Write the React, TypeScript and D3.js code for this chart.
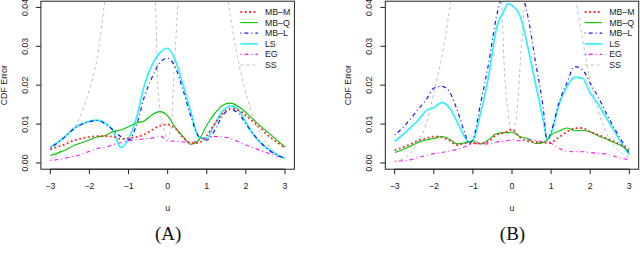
import React from "react";
import * as d3 from "d3";

// ---------- data ----------
const uA = [-3, -2.8, -2.6, -2.4, -2.2, -2, -1.8, -1.6, -1.4, -1.2, -1, -0.8, -0.6, -0.4, -0.2, 0, 0.2, 0.4, 0.6, 0.8, 1, 1.2, 1.4, 1.6, 1.8, 2, 2.2, 2.4, 2.6, 2.8, 3];
const mbmA = [.0035, .0042, .0049, .0058, .0063, .0067, .0069, .0069, .0068, .0062, .0064, .0067, .0073, .0085, .0096, .0099, .0088, .0065, .0051, .0052, .0071, .0100, .0126, .0140, .0136, .0122, .0105, .0087, .0068, .0053, .0038];
const mbqA = [.0019, .0026, .0034, .0045, .0052, .0060, .0067, .0070, .0081, .0085, .0093, .0103, .0108, .0124, .0132, .0121, .0091, .0067, .0048, .0060, .0097, .0127, .0148, .0154, .0146, .0130, .0111, .0093, .0076, .0058, .0041];
const mblA = [.0038, .0053, .0069, .0088, .0099, .0106, .0109, .0101, .0085, .0068, .0059, .0096, .0169, .0220, .0258, .0269, .0245, .0185, .0118, .0068, .0059, .0083, .0121, .0137, .0129, .0100, .0073, .0050, .0032, .0020, .0012];
const lsA = [.0040, .0054, .0070, .0089, .0100, .0107, .0110, .0102, .0085, .0040, .0062, .0115, .0198, .0252, .0283, .0295, .0263, .0199, .0128, .0066, .0064, .0100, .0132, .0146, .0138, .0104, .0072, .0050, .0034, .0021, .0012];
const egA = [.0006, .0009, .0013, .0017, .0023, .0030, .0037, .0040, .0047, .0052, .0057, .0060, .0062, .0064, .0070, .0057, .0056, .0054, .0053, .0058, .0063, .0068, .0067, .0063, .0055, .0046, .0039, .0031, .0024, .0018, .0012];

const uB = [-3, -2.8, -2.6, -2.4, -2.2, -2, -1.8, -1.6, -1.4, -1.2, -1.1, -1, -0.8, -0.6, -0.4, -0.2, -0.1, 0, 0.2, 0.4, 0.6, 0.8, 0.9, 1, 1.2, 1.4, 1.6, 1.8, 2, 2.2, 2.4, 2.6, 2.8, 3];
const mbmB = [.0033, .0040, .0048, .0058, .0063, .0068, .0066, .0058, .0046, .0051, .0050, .0051, .0050, .0055, .0072, .0078, .0082, .0086, .0066, .0056, .0054, .0052, .0052, .0053, .0066, .0080, .0089, .0090, .0080, .0073, .0064, .0056, .0046, .0036];
const mbqB = [.0027, .0034, .0043, .0053, .0059, .0063, .0068, .0061, .0049, .0052, .0055, .0057, .0049, .0060, .0075, .0078, .0078, .0079, .0068, .0063, .0050, .0053, .0060, .0072, .0082, .0090, .0083, .0084, .0080, .0070, .0062, .0053, .0044, .0030];
const mblB = [.0072, .0090, .0113, .0138, .0162, .0192, .0197, .0183, .0135, .0075, .0050, .0060, .0155, .0255, .0375, .0445, .0465, .0470, .0450, .0380, .0260, .0140, .0057, .0080, .0155, .0205, .0248, .0240, .0205, .0170, .0130, .0092, .0058, .0025];
const lsB = [.0055, .0072, .0090, .0110, .0134, .0142, .0155, .0142, .0105, .0065, .0052, .0058, .0130, .0222, .0345, .0392, .0410, .0405, .0380, .0300, .0205, .0110, .0060, .0075, .0150, .0195, .0220, .0218, .0180, .0152, .0118, .0085, .0050, .0022];
const egB = [.0005, .0005, .0008, .0014, .0019, .0024, .0027, .0031, .0035, .0042, .0046, .0050, .0049, .0049, .0054, .0056, .0058, .0061, .0057, .0060, .0058, .0054, .0052, .0050, .0038, .0030, .0029, .0029, .0027, .0025, .0023, .0018, .0012, .0008];

const ssU = [-3, -2.8, -2.6, -2.4, -2.2, -2, -1.8, -1.6, -1.4, -1.2, -1, -0.8, -0.6, -0.4, -0.3, -0.25, -0.2, -0.1, 0, 0.1, 0.15, 0.2, 0.3, 0.4, 0.6, 0.8, 1, 1.2, 1.4, 1.6, 1.8, 2, 2.2, 2.4, 2.6, 2.8, 3];
const ssA = [.0008, .0025, .0050, .0085, .0128, .0190, .0270, .0420, .0550, .0650, .0700, .0700, .0650, .0500, .0380, .0200, .0140, .0090, .0060, .0110, .0200, .0300, .0460, .0580, .0680, .0700, .0680, .0620, .0520, .0380, .0265, .0180, .0115, .0070, .0042, .0022, .0010];
const ssB = [.0003, .0010, .0025, .0055, .0098, .0180, .0270, .0390, .0520, .0620, .0680, .0700, .0700, .0600, .0480, .0380, .0250, .0130, .0080, .0110, .0160, .0240, .0380, .0550, .0700, .0700, .0680, .0620, .0550, .0440, .0320, .0210, .0135, .0080, .0045, .0025, .0012];

const xTicks = [-3, -2, -1, 0, 1, 2, 3];
const yTicks = [0, 0.01, 0.02, 0.03, 0.04];
const legendLabels = ["MB\u2013M", "MB\u2013Q", "MB\u2013L", "LS", "EG", "SS"];

// ---------- styles ----------
const styles = [
  { color: "#ff2828", width: 1.8, dash: "1.8 2.6" },
  { color: "#00c800", width: 1.1, dash: "" },
  { color: "#1818ff", width: 1.2, dash: "1 3 4 3" },
  { color: "#30f0ff", width: 1.7, dash: "" },
  { color: "#ff10ff", width: 1.1, dash: "1 3 4 3" },
  { color: "#bdbdbd", width: 1, dash: "3 3" },
];

const FONT = "'Liberation Sans', Arial, Helvetica, sans-serif";

type PanelProps = {
  id: string;
  left: number;
  right: number;
  u: number[];
  series: number[][];
  ss: number[];
  tag: string;
};

function Panel({ id, left, right, u, series, ss, tag }: PanelProps) {
  const top = 1.2;
  const bottom = 169.2;
  const x = d3.scaleLinear().domain([-3.24, 3.24]).range([left, right]);
  const y = d3.scaleLinear().domain([-0.0016, 0.0416]).range([bottom, top]);
  const line = d3
    .line<[number, number]>()
    .x((d) => x(d[0]))
    .y((d) => y(d[1]))
    .curve(d3.curveMonotoneX);
  const all = [...series, ss];
  const xs = [...series.map(() => u), ssU];
  const cx = (left + right) / 2;
  const legX = right - 54;
  return (
    <g>
      <defs>
        <clipPath id={"clip" + id}>
          <rect x={left} y={top} width={right - left} height={bottom - top} />
        </clipPath>
      </defs>
      <g clipPath={`url(#clip${id})`}>
        {[5, 4, 3, 2, 1, 0].map((i) => (
          <path
            key={i}
            d={line(xs[i].map((uu, k) => [uu, all[i][k]] as [number, number])) || ""}
            fill="none"
            stroke={styles[i].color}
            strokeWidth={styles[i].width}
            strokeDasharray={styles[i].dash || undefined}
          />
        ))}
      </g>
      <rect x={left} y={top} width={right - left} height={bottom - top} fill="none" stroke="#222" strokeWidth={1} />
      {xTicks.map((t) => (
        <g key={t}>
          <line x1={x(t)} x2={x(t)} y1={bottom} y2={bottom + 5} stroke="#222" />
          <text x={x(t)} y={186} textAnchor="middle" dominantBaseline="central" fontSize={8.8} fontFamily={FONT} fill="#222">
            {t < 0 ? "\u2212" + Math.abs(t) : String(t)}
          </text>
        </g>
      ))}
      <line x1={x(-3)} x2={x(3)} y1={bottom} y2={bottom} stroke="#222" />
      {yTicks.map((t) => (
        <g key={t}>
          <line x1={left - 5} x2={left} y1={y(t)} y2={y(t)} stroke="#222" />
          <text
            transform={`translate(${left - 16},${y(t)}) rotate(-90)`}
            textAnchor="middle"
            dominantBaseline="central"
            fontSize={8.8}
            fontFamily={FONT}
            fill="#222"
          >
            {t.toFixed(2)}
          </text>
        </g>
      ))}
      <text
        transform={`translate(${left - 37},${y(0.02)}) rotate(-90)`}
        textAnchor="middle"
        dominantBaseline="central"
        fontSize={8.8}
        fontFamily={FONT}
        fill="#222"
      >
        CDF Error
      </text>
      <text x={x(0)} y={208} textAnchor="middle" dominantBaseline="central" fontSize={8.8} fontFamily={FONT} fill="#222">
        u
      </text>
      <text x={cx + 0.5} y={233} textAnchor="middle" dominantBaseline="central" fontSize={19} fontFamily="'Liberation Serif', 'DejaVu Serif', serif" fill="#111">
        {tag}
      </text>
      {legendLabels.map((lab, i) => {
        const ly = 12 + i * 10.6;
        return (
          <g key={lab}>
            <line
              x1={legX}
              x2={legX + 17.5}
              y1={ly}
              y2={ly}
              stroke={styles[i].color}
              strokeWidth={styles[i].width}
              strokeDasharray={styles[i].dash || undefined}
            />
            <text x={right - 29.5} y={ly} dominantBaseline="central" fontSize={8.8} fontFamily={FONT} fill="#222">
              {lab}
            </text>
          </g>
        );
      })}
    </g>
  );
}

export default function App() {
  return (
    <svg
      width={640}
      height={272}
      viewBox="0 0 640 272"
      style={{ position: "absolute", left: 0, top: 0, background: "#fff" }}
    >
      <rect x={0} y={0} width={640} height={272} fill="#fff" />
      <Panel id="A" left={40.9} right={294.4} u={uA} series={[mbmA, mbqA, mblA, lsA, egA]} ss={ssA} tag="(A)" />
      <Panel id="B" left={385.3} right={638.7} u={uB} series={[mbmB, mbqB, mblB, lsB, egB]} ss={ssB} tag="(B)" />
    </svg>
  );
}
